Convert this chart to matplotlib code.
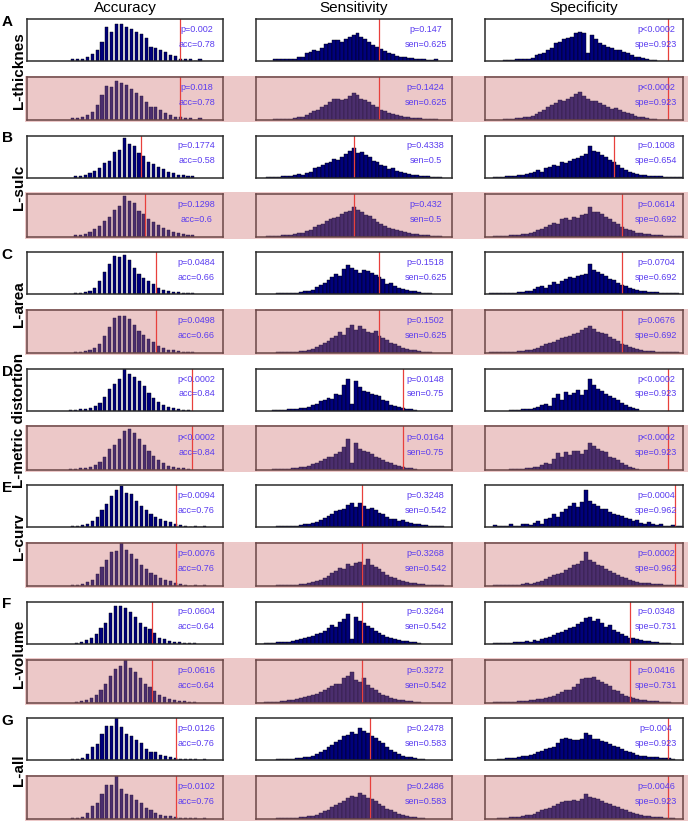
import matplotlib
matplotlib.use("Agg")
import matplotlib.pyplot as plt
from matplotlib.patches import Rectangle

plt.rcParams['font.family'] = ['Liberation Sans', 'DejaVu Sans']

groups = ["A", "B", "C", "D", "E", "F", "G"]
row_labels = ["L-thicknes", "L-sulc", "L-area", "L-metric distortion", "L-curv", "L-volume", "L-all"]
metrics = ["Accuracy", "Sensitivity", "Specificity"]
short = ["acc", "sen", "spe"]

# observed values (red line) for the top (white) and bottom (pink) rows
acc_obs_top = [0.78, 0.58, 0.66, 0.84, 0.76, 0.64, 0.76]
acc_obs_bot = [0.78, 0.6, 0.66, 0.84, 0.76, 0.64, 0.76]
sen_obs_top = [0.625, 0.5, 0.625, 0.75, 0.542, 0.542, 0.583]
sen_obs_bot = [0.625, 0.5, 0.625, 0.75, 0.542, 0.542, 0.583]
spe_obs_top = [0.923, 0.654, 0.692, 0.923, 0.962, 0.731, 0.923]
spe_obs_bot = [0.923, 0.692, 0.692, 0.923, 0.962, 0.731, 0.923]

acc_p_top = ["p=0.002", "p=0.1774", "p=0.0484", "p<0.0002", "p=0.0094", "p=0.0604", "p=0.0126"]
acc_p_bot = ["p=0.018", "p=0.1298", "p=0.0498", "p<0.0002", "p=0.0076", "p=0.0616", "p=0.0102"]
sen_p_top = ["p=0.147", "p=0.4338", "p=0.1518", "p=0.0148", "p=0.3248", "p=0.3264", "p=0.2478"]
sen_p_bot = ["p=0.1424", "p=0.432", "p=0.1502", "p=0.0164", "p=0.3268", "p=0.3272", "p=0.2486"]
spe_p_top = ["p<0.0002", "p=0.1008", "p=0.0704", "p<0.0002", "p=0.0004", "p=0.0348", "p=0.004"]
spe_p_bot = ["p<0.0002", "p=0.0614", "p=0.0676", "p<0.0002", "p=0.0002", "p=0.0416", "p=0.0046"]

# histogram counts (relative, % of panel height), first bin position per histogram
acc_step = 0.025
rate_step = 0.02
acc_start = [0.22, 0.234, 0.234, 0.21, 0.22, 0.24, 0.22]
sen_start = [0.088, 0.05, 0.1, 0.08, 0.1, 0.0, 0.1]
spe_start = [0.09, 0.04, 0.02, 0.12, 0.04, 0.04, 0.06]

acc_A_top = [5, 5, 5, 10, 17, 26, 46, 81, 69, 87, 89, 81, 77, 68, 65, 54, 34, 30, 26, 22, 14, 12, 5, 4, 4, 0, 4]
acc_A_bot = [4, 4, 7, 11, 18, 35, 59, 80, 77, 90, 86, 82, 72, 62, 55, 43, 31, 30, 23, 16, 12, 8, 6, 4, 4, 0, 4]
acc_B_top = [3, 4, 6, 10, 16, 22, 34, 40, 60, 66, 95, 80, 76, 58, 52, 38, 33, 24, 20, 13, 10, 6, 5, 3, 3]
acc_B_bot = [3, 4, 6, 10, 17, 24, 36, 45, 62, 72, 95, 82, 78, 60, 52, 40, 34, 26, 20, 14, 10, 7, 5, 3, 3]
acc_C_top = [3, 3, 5, 8, 14, 32, 52, 72, 90, 88, 92, 80, 62, 48, 38, 30, 25, 14, 10, 7, 5, 4, 3, 2, 2]
acc_C_bot = [2, 3, 4, 6, 12, 22, 40, 60, 82, 86, 86, 80, 66, 52, 42, 32, 26, 16, 11, 8, 6, 4, 3, 2, 2]
acc_D_top = [2, 2, 3, 4, 6, 10, 18, 32, 52, 64, 74, 100, 86, 80, 70, 58, 42, 30, 20, 12, 8, 5, 3, 2, 2]
acc_D_bot = [2, 2, 3, 4, 6, 10, 18, 30, 48, 58, 72, 90, 95, 84, 72, 58, 44, 32, 22, 14, 9, 6, 4, 3, 2]
acc_E_top = [2, 3, 5, 8, 14, 25, 40, 55, 75, 88, 98, 82, 78, 62, 50, 40, 32, 24, 18, 14, 12, 6, 4, 3, 0, 2, 0, 2]
acc_E_bot = [2, 3, 5, 9, 15, 28, 44, 60, 80, 82, 100, 84, 74, 62, 50, 40, 30, 26, 18, 14, 12, 6, 4, 3, 0, 2, 0, 2]
acc_F_top = [2, 3, 8, 14, 22, 38, 50, 72, 90, 90, 84, 74, 62, 48, 40, 34, 24, 14, 10, 6, 4, 3, 2, 2, 2]
acc_F_bot = [2, 3, 6, 10, 18, 30, 44, 62, 78, 86, 100, 80, 70, 56, 44, 36, 26, 18, 12, 8, 5, 4, 3, 2, 2]
acc_G_top = [3, 3, 5, 14, 30, 37, 62, 80, 82, 100, 78, 62, 58, 48, 40, 26, 20, 18, 12, 10, 8, 4, 3, 3, 2, 3, 0, 3]
acc_G_bot = [2, 2, 5, 14, 30, 37, 58, 78, 78, 100, 70, 58, 55, 45, 38, 25, 22, 15, 10, 8, 6, 4, 3, 3, 2, 2, 0, 2]

sen_A_top = [4, 4, 4, 4, 4, 5, 9, 9, 18, 22, 26, 24, 32, 40, 44, 51, 50, 45, 52, 56, 62, 67, 58, 52, 45, 38, 33, 28, 23, 20, 16, 13, 10, 10, 8, 6, 5, 4, 4, 2, 3, 4]
sen_A_bot = [3, 3, 3, 3, 3, 4, 6, 7, 12, 16, 22, 24, 30, 36, 42, 48, 50, 47, 50, 56, 62, 58, 50, 47, 42, 34, 30, 24, 20, 16, 13, 11, 9, 8, 7, 5, 4, 4, 3, 2, 2, 2]
sen_B_top = [2, 2, 2, 2, 3, 3, 4, 5, 8, 6, 10, 12, 22, 24, 30, 34, 38, 44, 42, 50, 56, 62, 70, 58, 60, 54, 50, 40, 36, 30, 28, 20, 22, 16, 12, 10, 8, 6, 5, 4, 3, 3, 2, 2, 2]
sen_B_bot = [2, 2, 2, 2, 3, 3, 4, 6, 8, 9, 12, 16, 22, 26, 30, 36, 40, 44, 46, 52, 58, 60, 68, 62, 56, 50, 48, 40, 34, 28, 24, 20, 18, 14, 12, 10, 8, 6, 5, 4, 3, 3, 2, 2, 2]
sen_C_top = [2, 2, 2, 2, 3, 3, 4, 6, 8, 10, 16, 22, 26, 34, 40, 48, 44, 60, 70, 62, 58, 50, 56, 54, 50, 46, 40, 36, 24, 26, 18, 14, 12, 10, 8, 6, 4, 3, 2, 2]
sen_C_bot = [2, 2, 2, 2, 2, 3, 4, 5, 7, 9, 14, 18, 24, 28, 36, 40, 48, 42, 58, 64, 54, 62, 56, 50, 46, 52, 40, 36, 30, 24, 20, 16, 12, 10, 8, 6, 4, 3, 2, 2]
sen_D_top = [2, 2, 2, 2, 3, 3, 4, 5, 6, 8, 14, 16, 22, 26, 30, 28, 40, 38, 60, 75, 15, 70, 56, 46, 44, 40, 38, 34, 26, 22, 14, 10, 8, 6, 4, 3, 2]
sen_D_bot = [2, 2, 2, 2, 2, 3, 4, 5, 6, 8, 12, 16, 20, 24, 28, 30, 36, 40, 52, 70, 14, 62, 48, 44, 40, 36, 30, 26, 22, 18, 14, 10, 7, 5, 4, 3, 2]
sen_E_top = [2, 2, 2, 2, 3, 3, 4, 6, 8, 10, 12, 16, 22, 26, 32, 38, 40, 44, 52, 58, 48, 56, 50, 44, 46, 40, 34, 30, 24, 20, 18, 14, 16, 12, 10, 8, 6, 5, 4, 3, 3, 2, 2]
sen_E_bot = [2, 2, 2, 2, 2, 3, 4, 5, 7, 9, 12, 14, 18, 24, 30, 36, 42, 40, 52, 46, 54, 56, 48, 62, 50, 44, 40, 32, 26, 22, 18, 14, 12, 10, 8, 6, 5, 4, 3, 3, 2, 2, 2]
sen_F_top = [0, 0, 2, 2, 2, 3, 3, 4, 4, 6, 8, 10, 12, 16, 18, 22, 26, 30, 36, 44, 40, 52, 58, 70, 10, 62, 54, 48, 42, 38, 30, 26, 20, 16, 12, 10, 8, 6, 5, 4, 3, 2]
sen_F_bot = [0, 0, 2, 2, 2, 2, 3, 4, 5, 6, 8, 10, 12, 14, 18, 20, 24, 30, 34, 38, 44, 42, 56, 62, 70, 52, 48, 58, 40, 34, 28, 22, 18, 14, 10, 8, 6, 5, 4, 3, 2, 2]
sen_G_top = [2, 2, 2, 2, 3, 4, 5, 6, 8, 10, 14, 18, 24, 30, 36, 42, 48, 56, 60, 66, 62, 76, 70, 64, 58, 52, 46, 40, 30, 24, 18, 14, 10, 8, 6, 4, 3, 2]
sen_G_bot = [2, 2, 2, 2, 2, 3, 4, 5, 6, 8, 10, 14, 18, 22, 28, 32, 38, 42, 48, 54, 52, 60, 56, 50, 46, 42, 36, 30, 24, 20, 16, 12, 9, 7, 5, 4, 3, 2]

spe_A_top = [2, 2, 2, 5, 5, 4, 5, 7, 14, 17, 19, 26, 32, 42, 46, 53, 55, 58, 66, 68, 66, 18, 62, 52, 44, 38, 34, 30, 27, 26, 22, 18, 14, 10, 9, 7, 4, 2, 2]
spe_A_bot = [2, 2, 2, 4, 5, 6, 8, 10, 14, 18, 24, 30, 34, 40, 46, 44, 48, 54, 60, 66, 55, 50, 44, 45, 40, 35, 30, 26, 28, 24, 19, 16, 13, 10, 8, 6, 4, 2, 2]
spe_B_top = [2, 2, 2, 3, 3, 3, 5, 6, 8, 10, 14, 18, 12, 22, 26, 30, 28, 36, 34, 40, 44, 46, 52, 56, 75, 62, 60, 54, 50, 42, 38, 30, 22, 18, 14, 10, 8, 6, 5, 4, 4, 3, 3, 2, 2, 2, 2, 1]
spe_B_bot = [2, 2, 2, 2, 3, 3, 4, 5, 6, 8, 10, 14, 18, 22, 26, 32, 30, 40, 42, 38, 46, 44, 50, 52, 68, 58, 56, 52, 46, 40, 34, 28, 22, 18, 14, 12, 9, 7, 6, 5, 4, 3, 3, 2, 2, 2, 2, 1]
spe_C_top = [2, 2, 2, 2, 2, 3, 3, 4, 5, 6, 8, 12, 16, 20, 14, 22, 28, 24, 32, 36, 40, 38, 44, 46, 48, 72, 58, 52, 48, 42, 36, 34, 26, 22, 18, 14, 12, 10, 8, 6, 5, 4, 4, 3, 3, 2, 2, 2]
spe_C_bot = [2, 2, 2, 2, 2, 2, 3, 4, 5, 6, 8, 10, 12, 16, 20, 24, 26, 30, 34, 38, 40, 44, 46, 54, 58, 62, 56, 50, 46, 44, 38, 32, 28, 22, 18, 14, 11, 9, 7, 5, 4, 4, 3, 3, 2, 2, 2, 2]
spe_D_top = [2, 2, 2, 3, 3, 4, 6, 8, 12, 16, 10, 30, 40, 24, 44, 36, 42, 50, 38, 48, 75, 60, 52, 46, 40, 34, 30, 26, 18, 12, 8, 5, 3]
spe_D_bot = [2, 2, 2, 2, 3, 4, 5, 6, 10, 14, 12, 24, 38, 30, 40, 34, 44, 42, 36, 46, 62, 54, 48, 44, 40, 30, 26, 22, 14, 10, 6, 4, 2]
spe_E_top = [4, 2, 2, 2, 6, 2, 2, 6, 8, 4, 10, 14, 8, 18, 22, 30, 24, 36, 44, 50, 56, 48, 60, 88, 62, 54, 50, 44, 42, 36, 30, 28, 26, 22, 18, 14, 16, 10, 8, 12, 6, 4, 6, 3, 2, 4, 2, 2]
spe_E_bot = [2, 2, 2, 2, 3, 2, 3, 5, 6, 5, 8, 10, 12, 16, 20, 26, 28, 30, 38, 42, 48, 52, 58, 78, 60, 56, 50, 46, 40, 36, 30, 26, 22, 18, 14, 12, 10, 8, 8, 6, 5, 4, 4, 3, 2, 2, 2, 2]
spe_F_top = [2, 2, 2, 2, 2, 3, 4, 3, 6, 4, 8, 6, 10, 14, 16, 20, 24, 28, 32, 36, 40, 46, 52, 60, 64, 54, 58, 50, 40, 44, 32, 28, 22, 18, 14, 12, 10, 8, 6, 5, 4, 3, 2, 2, 2]
spe_F_bot = [2, 2, 2, 2, 2, 2, 3, 4, 4, 5, 6, 8, 8, 10, 12, 16, 20, 24, 28, 30, 36, 44, 54, 56, 58, 60, 52, 48, 44, 38, 30, 26, 20, 16, 12, 10, 8, 6, 5, 4, 3, 3, 2, 2, 2]
spe_G_top = [2, 3, 4, 4, 5, 6, 9, 10, 12, 14, 18, 22, 26, 28, 30, 40, 51, 53, 50, 48, 47, 51, 65, 60, 51, 49, 46, 42, 38, 34, 30, 27, 22, 18, 16, 12, 10, 10, 8, 6, 6, 5, 4, 4, 3]
spe_G_bot = [2, 2, 3, 4, 4, 5, 7, 9, 10, 12, 16, 20, 24, 26, 30, 36, 40, 42, 42, 44, 42, 46, 58, 52, 48, 46, 42, 38, 34, 30, 27, 24, 20, 16, 14, 11, 9, 8, 7, 5, 5, 4, 3, 3, 2]

acc_top = [acc_A_top, acc_B_top, acc_C_top, acc_D_top, acc_E_top, acc_F_top, acc_G_top]
acc_bot = [acc_A_bot, acc_B_bot, acc_C_bot, acc_D_bot, acc_E_bot, acc_F_bot, acc_G_bot]
sen_top = [sen_A_top, sen_B_top, sen_C_top, sen_D_top, sen_E_top, sen_F_top, sen_G_top]
sen_bot = [sen_A_bot, sen_B_bot, sen_C_bot, sen_D_bot, sen_E_bot, sen_F_bot, sen_G_bot]
spe_top = [spe_A_top, spe_B_top, spe_C_top, spe_D_top, spe_E_top, spe_F_top, spe_G_top]
spe_bot = [spe_A_bot, spe_B_bot, spe_C_bot, spe_D_bot, spe_E_bot, spe_F_bot, spe_G_bot]

hists = {"top": [acc_top, sen_top, spe_top], "bot": [acc_bot, sen_bot, spe_bot]}
obs = {"top": [acc_obs_top, sen_obs_top, spe_obs_top], "bot": [acc_obs_bot, sen_obs_bot, spe_obs_bot]}
pvals = {"top": [acc_p_top, sen_p_top, spe_p_top], "bot": [acc_p_bot, sen_p_bot, spe_p_bot]}
starts = [acc_start, sen_start, spe_start]

W, H = 688, 823
fig = plt.figure(figsize=(W / 100, H / 100), dpi=100)

def rect(x, y, w, h):
    return [x / W, 1 - (y + h) / H, w / W, h / H]

pink = "#ecc8c8"
col_x = [27, 256, 485]
col_w = [196, 196, 198]
pitch = 116.5

for m, name in enumerate(metrics):
    fig.text((col_x[m] + col_w[m] / 2) / W, 1 - 8 / H, name, ha="center", va="center", fontsize=11)

for g in range(len(groups)):
    y0 = 19 + pitch * g
    fig.patches.append(Rectangle((25 / W, 1 - (y0 + 103) / H), (W - 25) / W, 46.5 / H,
                                 transform=fig.transFigure, facecolor=pink, edgecolor="none", zorder=-5))
    fig.text(7 / W, 1 - (y0 + 3) / H, groups[g], ha="center", va="center", fontsize=11, fontweight="bold")
    fig.text(19 / W, 1 - (y0 + 52) / H, row_labels[g], ha="center", va="center", rotation=90,
             fontsize=11, fontweight="bold")
    for row, dy, hh in [("top", 0, 42), ("bot", 58, 43)]:
        for m in range(3):
            ax = fig.add_axes(rect(col_x[m], y0 + dy, col_w[m], hh))
            ax.set_zorder(2)
            counts = hists[row][m][g]
            step = acc_step if m == 0 else rate_step
            xs = [starts[m][g] + step * i + step / 2 for i in range(len(counts))]
            width = 0.016 if m == 0 else step
            if row == "top":
                ax.set_facecolor("white")
                fc, ec, sc = "#00007c", "#000000", "#2b2b2b"
            else:
                ax.set_facecolor(pink)
                fc, ec, sc = "#4b2e6e", "#2a1838", "#6a4646"
            ax.bar(xs, counts, width=width, color=fc, edgecolor=ec, linewidth=0.3)
            ax.axvline(obs[row][m][g], color="#e8403c", linewidth=0.9)
            ax.set_xlim(0, 1)
            ax.set_ylim(0, 100)
            ax.set_xticks([])
            ax.set_yticks([])
            for s in ax.spines.values():
                s.set_color(sc)
                s.set_linewidth(1.1)
            ax.text(0.865, 0.75, pvals[row][m][g], transform=ax.transAxes, ha="center", va="center",
                    fontsize=6.5, color="#5a3cf0")
            ax.text(0.865, 0.40, f"{short[m]}={obs[row][m][g]:g}", transform=ax.transAxes,
                    ha="center", va="center", fontsize=6.5, color="#5a3cf0")

fig.savefig("out.png", dpi=100)
